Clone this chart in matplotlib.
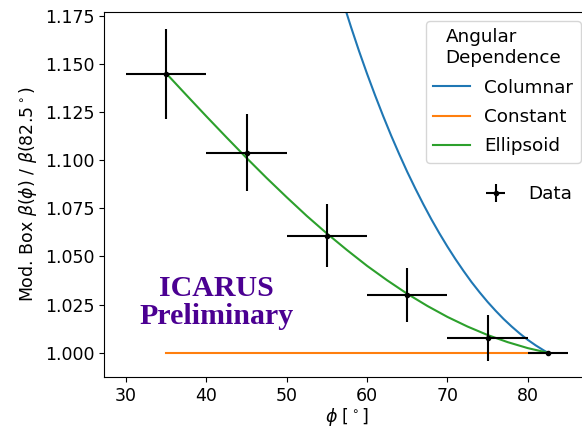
import matplotlib.pyplot as plt
from matplotlib.legend import Legend

# measured points
phi = [35, 45, 55, 65, 75, 82.5]
ratio = [1.1446, 1.1038, 1.0608, 1.0299, 1.0077, 1.0000]
phi_err = [5, 5, 5, 5, 5, 2.5]
ratio_err = [0.0235, 0.020, 0.0163, 0.014, 0.012, 0.0]

# model curves
ell_phi = [35, 37.5, 40, 42.5, 45, 47.5, 50, 52.5, 55, 57.5, 60, 62.5,
           65, 67.5, 70, 72.5, 75, 77.5, 80, 82.5]
ell_ratio = [1.1450, 1.1338, 1.1227, 1.1118, 1.1011, 1.0907, 1.0807, 1.0710,
             1.0619, 1.0533, 1.0451, 1.0376, 1.0306, 1.0243, 1.0186, 1.0136,
             1.0092, 1.0055, 1.0024, 1.0000]

col_phi = [57, 58, 59, 60, 61, 62, 63, 64, 65, 66, 67, 68, 69, 70, 71, 72,
           73, 74, 75, 76, 77, 78, 79, 80, 81, 82, 82.5]
col_ratio = [1.1822, 1.1691, 1.1566, 1.1448, 1.1336, 1.1229, 1.1127, 1.1031,
             1.0939, 1.0853, 1.0771, 1.0693, 1.0620, 1.0551, 1.0486, 1.0425,
             1.0367, 1.0314, 1.0264, 1.0218, 1.0175, 1.0136, 1.0100, 1.0067,
             1.0038, 1.0012, 1.0000]

const_phi = [35, 82.5]
const_ratio = [1.0, 1.0]

plt.rcParams['font.size'] = 12.5

fig = plt.figure(figsize=(5.82, 4.29), dpi=100)
ax = fig.add_axes([104 / 582, 52 / 429, (590 - 104) / 582, (377 - 12) / 429])

l1, = ax.plot(col_phi, col_ratio, color='C0', lw=1.5, label='Columnar')
l2, = ax.plot(const_phi, const_ratio, color='C1', lw=1.5, label='Constant')
l3, = ax.plot(ell_phi, ell_ratio, color='C2', lw=1.5, label='Ellipsoid')
eb = ax.errorbar(phi, ratio, xerr=phi_err, yerr=ratio_err, fmt='o', color='black',
                 ms=3, elinewidth=1.5, capsize=0, label='Data', zorder=5)

ax.set_xlim(27.25, 87.75)
ax.set_ylim(0.9874, 1.1769)
ax.set_xticks([30, 40, 50, 60, 70, 80])
ax.set_yticks([1.0, 1.025, 1.05, 1.075, 1.1, 1.125, 1.15, 1.175])
ax.set_xlabel(r'$\phi$ [$^\circ$]', labelpad=1)
ax.set_ylabel(r'Mod. Box $\beta(\phi)$ / $\beta(82.5^\circ)$')

leg1 = ax.legend(handles=[l1, l2, l3], title='Angular\nDependence', loc='upper right',
                 fontsize=13.2, title_fontsize=13.2, labelspacing=0.62)
leg2 = Legend(ax, [eb], ['Data'], loc='upper right', bbox_to_anchor=(0.998, 0.57),
              frameon=False, fontsize=13.2)
ax.add_artist(leg2)

ax.text(41.3, 1.026, 'ICARUS\nPreliminary', color='#4B0092', fontsize=21.5,
        fontweight='bold', family='Liberation Serif', ha='center', va='center',
        linespacing=1.05)

fig.savefig('out.png', dpi=100)
